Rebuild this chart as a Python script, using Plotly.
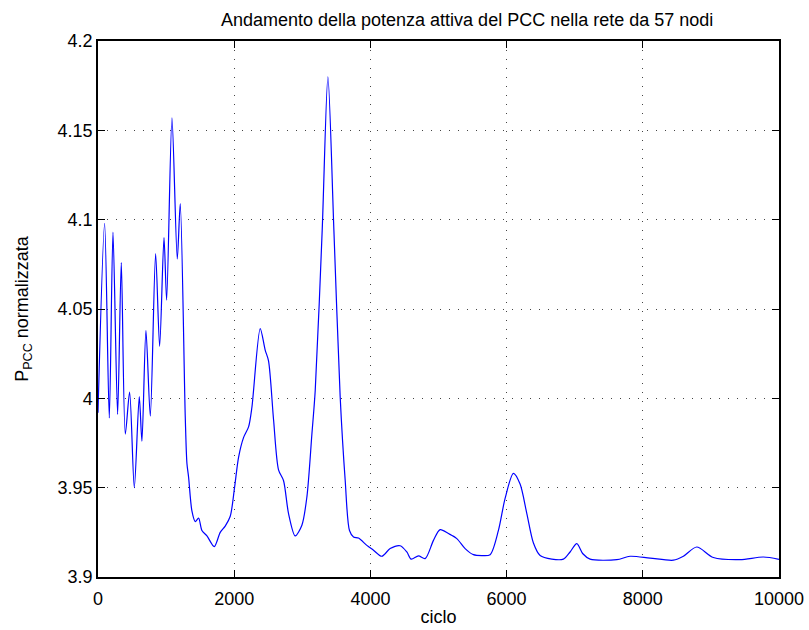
import plotly.graph_objects as go

cycles = [0, 97, 166, 220, 288, 342, 401, 464, 533, 606, 645, 704, 768, 846, 905, 969, 1008,
          1086, 1164, 1208, 1281, 1306, 1330, 1379, 1428, 1477, 1526, 1600, 1707, 1795, 1868,
          1942, 2005, 2064, 2137, 2211, 2260, 2382, 2455, 2504, 2578, 2651, 2724, 2798, 2896,
          2994, 3068, 3141, 3190, 3292, 3376, 3464, 3556, 3630, 3693, 3752, 3825, 3948, 4045,
          4168, 4290, 4437, 4535, 4599, 4706, 4804, 4926, 5024, 5146, 5269, 5391, 5513, 5636,
          5758, 5880, 5978, 6100, 6198, 6297, 6394, 6492, 6664, 6834, 6932, 7031, 7120, 7226,
          7618, 7813, 8107, 8449, 8596, 8792, 9036, 9428, 9770, 10000]
p_pcc = [3.992, 4.098, 3.989, 4.093, 3.991, 4.076, 3.980, 4.0035, 3.950, 4.001, 3.976, 4.038,
         3.990, 4.081, 4.029, 4.090, 4.055, 4.157, 4.078, 4.109, 3.990, 3.9635, 3.956, 3.937,
         3.931, 3.933, 3.926, 3.923, 3.917, 3.925, 3.9285, 3.934, 3.950, 3.967, 3.978, 3.984,
         3.995, 4.039, 4.027, 4.021, 3.988, 3.960, 3.954, 3.9355, 3.923, 3.929, 3.945, 3.980,
         4.0045, 4.094, 4.180, 4.094, 4.001, 3.954, 3.926, 3.9224, 3.9218, 3.9177, 3.915,
         3.9116, 3.9159, 3.9175, 3.914, 3.910, 3.9118, 3.9103, 3.9205, 3.9265, 3.9243, 3.9215,
         3.9159, 3.9125, 3.912, 3.9125, 3.9261, 3.944, 3.958, 3.952, 3.9355, 3.919, 3.912,
         3.910, 3.910, 3.914, 3.9187, 3.913, 3.910, 3.9097, 3.9116, 3.9106, 3.9094, 3.9116,
         3.9168, 3.9109, 3.9097, 3.9112, 3.9099]

x_ticks = [0, 2000, 4000, 6000, 8000, 10000]
x_tick_labels = ["0", "2000", "4000", "6000", "8000", "10000"]
y_ticks = [3.9, 3.95, 4.0, 4.05, 4.1, 4.15, 4.2]
y_tick_labels = ["3.9", "3.95", "4", "4.05", "4.1", "4.15", "4.2"]

FONT = "Liberation Sans, Arial, sans-serif"

fig = go.Figure()
fig.add_trace(go.Scatter(x=cycles, y=p_pcc, mode="lines",
                         line=dict(color="#0000ff", width=1.2, shape="spline", smoothing=0.8),
                         showlegend=False, hoverinfo="x+y"))

axis_common = dict(
    showline=True, linecolor="black", linewidth=1.5, mirror="ticks",
    ticks="inside", ticklen=7, tickcolor="black", tickwidth=1,
    showgrid=True, gridcolor="#444444", gridwidth=1, griddash="1px,8px",
    zeroline=False, tickfont=dict(family=FONT, size=18, color="black"),
    automargin=False,
)

fig.update_xaxes(range=[0, 10000], tickvals=x_ticks, ticktext=x_tick_labels,
                 ticklabelstandoff=5,
                 title=dict(text="ciclo", font=dict(family=FONT, size=18, color="black"), standoff=2),
                 **axis_common)
fig.update_yaxes(range=[3.9, 4.2], tickvals=y_ticks, ticktext=y_tick_labels,
                 title=dict(text="P<sub>PCC</sub> normalizzata",
                            font=dict(family=FONT, size=18, color="black"), standoff=24),
                 **axis_common)

fig.update_layout(
    width=809, height=630,
    margin=dict(l=98, r=30, t=41, b=53),
    paper_bgcolor="white", plot_bgcolor="white",
    title=dict(text="Andamento della potenza attiva del PCC nella rete da 57 nodi",
               font=dict(family=FONT, size=18, color="black"),
               x=0.542, xanchor="center", xref="paper",
               y=1 - 20 / 630, yanchor="middle", yref="container"),
)

fig.write_html("out.html")
